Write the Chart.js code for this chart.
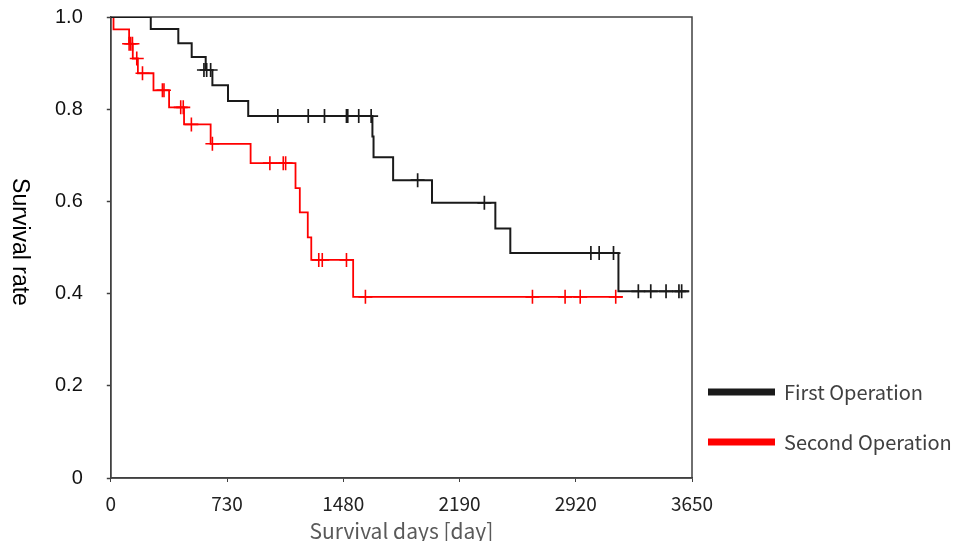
<!DOCTYPE html>
<html>
<head>
<meta charset="utf-8">
<script src="https://cdn.jsdelivr.net/npm/chart.js@4.4.0/dist/chart.umd.min.js"></script>
<style>
  html, body { margin: 0; padding: 0; background: #fff; }
</style>
</head>
<body>
<canvas id="chart1" width="978" height="541"></canvas>
<script>
// axis labels
const xTickLabels = ['0', '730', '1480', '2190', '2920', '3650']
const yTickLabels = ['0', '0.2', '0.4', '0.6', '0.8', '1.0']

// First Operation: KM steps (day, survival after the step), last point = end of follow-up
const firstDays = [0, 251, 424, 508, 596, 638, 736, 863, 1643, 1650, 1773, 2017, 2415, 2509, 3188, 3633]
const firstSurv = [1.0, 0.974, 0.943, 0.913, 0.885, 0.852, 0.818, 0.785, 0.741, 0.696, 0.646, 0.597, 0.541, 0.488, 0.405, 0.405]
// censored cases
const firstCensorDays = [585, 602, 627, 1049, 1240, 1342, 1480, 1488, 1557, 1635, 1927, 2346, 3015, 3067, 3157, 3313, 3391, 3487, 3568, 3585]
const firstCensorSurv = [0.885, 0.885, 0.885, 0.785, 0.785, 0.785, 0.785, 0.785, 0.785, 0.785, 0.646, 0.597, 0.488, 0.488, 0.488, 0.405, 0.405, 0.405, 0.405, 0.405]

// Second Operation
const secondDays = [0, 17, 115, 138, 170, 268, 366, 460, 627, 878, 1160, 1187, 1237, 1259, 1522, 3215]
const secondSurv = [1.0, 0.973, 0.942, 0.910, 0.878, 0.841, 0.804, 0.767, 0.725, 0.683, 0.629, 0.576, 0.522, 0.473, 0.393, 0.393]
const secondCensorDays = [115, 125, 136, 163, 199, 324, 334, 439, 455, 506, 638, 999, 1083, 1098, 1306, 1328, 1480, 1599, 2648, 2853, 2948, 3171]
const secondCensorSurv = [0.942, 0.942, 0.942, 0.910, 0.878, 0.841, 0.841, 0.804, 0.804, 0.767, 0.725, 0.683, 0.683, 0.683, 0.473, 0.473, 0.473, 0.393, 0.393, 0.393, 0.393, 0.393]

const BLACK = '#1a1a1a'
const RED = '#ff0000'
const AXIS = '#404040'

function toPoints(xs, ys) {
  return xs.map((x, i) => ({x: x, y: ys[i]}))
}

// frame round the plot area
const frame = {
  id: 'frame',
  beforeDatasetsDraw(chart) {
    const {ctx, chartArea: a} = chart
    ctx.save()
    ctx.strokeStyle = AXIS
    ctx.lineWidth = 1.5
    ctx.strokeRect(a.left, a.top, a.right - a.left, a.bottom - a.top)
    ctx.restore()
  }
}

// y title reads top to bottom
const yTitle = {
  id: 'yTitle',
  afterDraw(chart) {
    const ctx = chart.ctx
    ctx.save()
    ctx.translate(19, 242)
    ctx.rotate(Math.PI / 2)
    ctx.font = '23px "Liberation Sans", Arial, sans-serif'
    ctx.fillStyle = '#000'
    ctx.textAlign = 'center'
    ctx.textBaseline = 'middle'
    ctx.fillText('Survival rate', 0, 0)
    ctx.restore()
  }
}

// legend sitting right of the plot, lower half
const sideLegend = {
  id: 'sideLegend',
  afterDraw(chart) {
    const ctx = chart.ctx
    const rows = [0, 1]
    ctx.save()
    rows.forEach((di, i) => {
      const ds = chart.data.datasets[di]
      const y = 392 + i * 50
      ctx.fillStyle = ds.borderColor
      ctx.fillRect(708, y - 3.5, 67, 7)
      ctx.font = '20px "Noto Sans CJK JP", sans-serif'
      ctx.fillStyle = '#404040'
      ctx.textAlign = 'left'
      ctx.textBaseline = 'middle'
      ctx.fillText(ds.label, 784, y)
    })
    ctx.restore()
  }
}

const ctx1 = document.getElementById('chart1').getContext('2d')
const chart1 = new Chart(ctx1, {
  type: 'line',
  data: {
    datasets: [{
      label: 'First Operation',
      data: toPoints(firstDays, firstSurv),
      borderColor: BLACK,
      backgroundColor: BLACK,
      borderWidth: 2,
      stepped: 'before',
      pointRadius: 0,
      fill: false
    },
    {
      label: 'Second Operation',
      data: toPoints(secondDays, secondSurv),
      borderColor: RED,
      backgroundColor: RED,
      borderWidth: 1.8,
      stepped: 'before',
      pointRadius: 0,
      fill: false
    },
    {
      label: 'first censored',
      data: toPoints(firstCensorDays, firstCensorSurv),
      showLine: false,
      pointStyle: 'cross',
      pointRadius: 7,
      borderColor: BLACK,
      pointBorderWidth: 1.7
    },
    {
      label: 'second censored',
      data: toPoints(secondCensorDays, secondCensorSurv),
      showLine: false,
      pointStyle: 'cross',
      pointRadius: 7,
      borderColor: RED,
      pointBorderWidth: 1.6
    }]
  },
  options: {
    responsive: false,
    animation: false,
    layout: {
      padding: {top: 17, left: 55, right: 286, bottom: 0}
    },
    scales: {
      x: {
        type: 'linear',
        min: 0,
        max: 3650,
        ticks: {
          stepSize: 730,
          callback: (v, i) => xTickLabels[i],
          color: '#222',
          font: {family: '"Noto Sans CJK JP", sans-serif', size: 19},
          padding: 10,
          maxRotation: 0
        },
        grid: {display: true, drawOnChartArea: false, drawTicks: true, tickLength: 4, color: AXIS},
        border: {display: true, color: AXIS, width: 1.5},
        title: {
          display: true,
          text: 'Survival days [day]',
          color: '#595959',
          font: {family: '"Noto Sans CJK JP", sans-serif', size: 21},
          padding: {top: -6, bottom: -3}
        }
      },
      y: {
        min: 0,
        max: 1,
        ticks: {
          stepSize: 0.2,
          callback: (v, i) => yTickLabels[i],
          color: '#111',
          font: {family: '"Liberation Sans", Arial, sans-serif', size: 20},
          padding: 0
        },
        // long tick slot, only the 4px next to the axis are drawn
        grid: {display: true, drawOnChartArea: false, drawTicks: true, tickLength: 28, tickBorderDash: [4, 24], tickBorderDashOffset: 4, color: AXIS, tickWidth: 1.5},
        border: {display: true, color: AXIS, width: 1.5}
      }
    },
    plugins: {
      legend: {display: false},
      tooltip: {enabled: false}
    }
  },
  plugins: [frame, yTitle, sideLegend]
})
</script>
</body>
</html>
